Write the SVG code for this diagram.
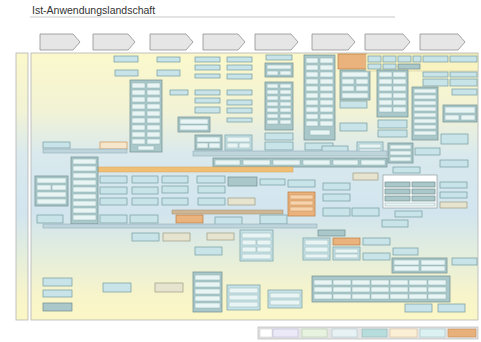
<svg xmlns="http://www.w3.org/2000/svg" width="481" height="342" viewBox="0 0 481 342">
  <defs>
    <linearGradient id="bodyFill" x1="0" y1="0" x2="0" y2="1">
      <stop offset="0" stop-color="#fbf8cb"/>
      <stop offset="0.22" stop-color="#f2f3d6"/>
      <stop offset="0.38" stop-color="#d9e9ed"/>
      <stop offset="0.6" stop-color="#d2e5ef"/>
      <stop offset="0.76" stop-color="#e4eedc"/>
      <stop offset="0.9" stop-color="#f7f4cb"/>
      <stop offset="1" stop-color="#fbf7c6"/>
    </linearGradient>
    <style>
      .title { font-family: "Liberation Sans", Arial, sans-serif; font-size: 10.5px; fill: #333; }
      .chev { fill: #e6e6e6; stroke: #8f8f8f; stroke-width: 0.8; }
      .frame { fill: url(#bodyFill); stroke: #b3b3b3; stroke-width: 0.8; }
      .b { fill: #c9e4e8; stroke: #739ca0; stroke-width: 0.7; }
      .w { fill: #e9f4f4; stroke: #8fb0b2; stroke-width: 0.5; }
      .g { fill: #aac8ca; stroke: #708e90; stroke-width: 0.7; }
      .o { fill: #eab27c; stroke: #bd7c40; stroke-width: 0.7; }
      .c { fill: #f6e6cc; stroke: #cf9252; stroke-width: 0.7; }
      .t { fill: #cdb797; stroke: #a98f6b; stroke-width: 0.5; }
      .y { fill: #e6e4cf; stroke: #9c9c82; stroke-width: 0.7; }
      .l { fill: #bed5dc; stroke: #88a5ae; stroke-width: 0.5; }
      .ob { fill: #f0bf76; stroke: #d8a055; stroke-width: 0.5; }
      .wh { fill: #ffffff; stroke: #8f9b9c; stroke-width: 0.7; }
    </style>
  </defs>

  <rect width="481" height="342" fill="#ffffff"/>

  <!-- heading -->
  <text class="title" x="32" y="14">Ist-Anwendungslandschaft</text>
  <line x1="30" y1="17" x2="395" y2="17" stroke="#b0b0b0" stroke-width="0.7"/>

  <!-- process chain -->
  <g id="process">
    <path class="chev" d="M40,34 H73 L80,42 L73,50 H40 Z"/>
    <path class="chev" d="M93,34 H128 L135,42 L128,50 H93 Z"/>
    <path class="chev" d="M150,34 H186 L193,42 L186,50 H150 Z"/>
    <path class="chev" d="M203,34 H238 L245,42 L238,50 H203 Z"/>
    <path class="chev" d="M255,34 H291 L298,42 L291,50 H255 Z"/>
    <path class="chev" d="M312,34 H348 L355,42 L348,50 H312 Z"/>
    <path class="chev" d="M365,34 H403 L410,42 L403,50 H365 Z"/>
    <path class="chev" d="M420,34 H458 L465,42 L458,50 H420 Z"/>
  </g>

  <!-- lanes -->
  <rect class="frame" x="16" y="53" width="12" height="267"/>
  <rect class="frame" x="31" y="53" width="447" height="267"/>

  <!-- upper area -->
  <g id="n1"><rect class="b" x="114" y="56" width="24" height="6"/></g>
  <g id="n2"><rect class="b" x="115" y="70" width="23" height="6"/></g>
  <g id="n3"><rect class="b" x="157" y="57" width="23" height="5"/></g>
  <g id="n4"><rect class="b" x="157" y="70" width="23" height="6"/></g>
  <g id="n5">
    <rect class="g" x="130" y="80" width="32" height="72"/>
    <rect class="w" x="132" y="83" width="13" height="5"/><rect class="w" x="147" y="83" width="13" height="5"/>
    <rect class="w" x="132" y="90" width="13" height="5"/><rect class="w" x="147" y="90" width="13" height="5"/>
    <rect class="w" x="132" y="97" width="13" height="5"/><rect class="w" x="147" y="97" width="13" height="5"/>
    <rect class="w" x="132" y="104" width="13" height="5"/><rect class="w" x="147" y="104" width="13" height="5"/>
    <rect class="w" x="132" y="111" width="13" height="5"/><rect class="w" x="147" y="111" width="13" height="5"/>
    <rect class="w" x="132" y="118" width="13" height="5"/><rect class="w" x="147" y="118" width="13" height="5"/>
    <rect class="w" x="132" y="125" width="13" height="5"/><rect class="w" x="147" y="125" width="13" height="5"/>
    <rect class="w" x="132" y="132" width="13" height="5"/><rect class="w" x="147" y="132" width="13" height="5"/>
    <rect class="w" x="132" y="139" width="13" height="5"/><rect class="w" x="147" y="139" width="13" height="5"/>
    <rect class="w" x="138" y="146" width="16" height="4"/>
  </g>
  <g id="n6"><rect class="b" x="170" y="90" width="18" height="5"/></g>
  <g id="n7"><rect class="b" x="195" y="57" width="25" height="5"/></g>
  <g id="n8"><rect class="b" x="227" y="57" width="25" height="5"/></g>
  <g id="n9"><rect class="b" x="195" y="65" width="25" height="5"/></g>
  <g id="n10"><rect class="b" x="227" y="65" width="25" height="5"/></g>
  <g id="n11"><rect class="b" x="195" y="74" width="25" height="4"/></g>
  <g id="n12"><rect class="b" x="227" y="74" width="25" height="5"/></g>
  <g id="n13"><rect class="b" x="195" y="90" width="25" height="5"/></g>
  <g id="n14"><rect class="b" x="227" y="90" width="25" height="5"/></g>
  <g id="n15"><rect class="b" x="195" y="98" width="25" height="5"/></g>
  <g id="n16"><rect class="b" x="227" y="100" width="25" height="5"/></g>
  <g id="n17"><rect class="b" x="195" y="107" width="25" height="6"/></g>
  <g id="n18"><rect class="b" x="227" y="108" width="25" height="5"/></g>
  <g id="n19"><rect class="b" x="227" y="118" width="25" height="4"/></g>
  <g id="n20">
    <rect class="g" x="178" y="117" width="32" height="15"/>
    <rect class="w" x="180" y="119" width="28" height="5"/><rect class="w" x="180" y="125" width="28" height="5"/>
  </g>
  <g id="n21">
    <rect class="g" x="195" y="135" width="27" height="15"/>
    <rect class="w" x="197" y="137" width="23" height="5"/>
    <rect class="w" x="197" y="143" width="11" height="5"/><rect class="w" x="209" y="143" width="11" height="5"/>
  </g>
  <g id="n22">
    <rect class="b" x="225" y="135" width="27" height="15"/>
    <rect class="w" x="227" y="137" width="23" height="5"/>
    <rect class="w" x="227" y="143" width="11" height="5"/><rect class="w" x="239" y="143" width="11" height="5"/>
  </g>

  <!-- customer service column -->
  <g id="n23"><rect class="b" x="266" y="55" width="26" height="5"/></g>
  <g id="n24">
    <rect class="g" x="265" y="63" width="28" height="14"/>
    <rect class="w" x="267" y="65" width="24" height="4"/>
    <rect class="w" x="267" y="71" width="11" height="4"/><rect class="w" x="280" y="71" width="11" height="4"/>
  </g>
  <g id="n25">
    <rect class="g" x="265" y="82" width="28" height="48"/>
    <rect class="w" x="267" y="84" width="11" height="4"/><rect class="w" x="280" y="84" width="11" height="4"/>
    <rect class="w" x="267" y="90" width="11" height="4"/><rect class="w" x="280" y="90" width="11" height="4"/>
    <rect class="w" x="267" y="96" width="11" height="4"/><rect class="w" x="280" y="96" width="11" height="4"/>
    <rect class="w" x="267" y="102" width="11" height="4"/><rect class="w" x="280" y="102" width="11" height="4"/>
    <rect class="w" x="267" y="108" width="11" height="4"/><rect class="w" x="280" y="108" width="11" height="4"/>
    <rect class="w" x="267" y="114" width="11" height="4"/><rect class="w" x="280" y="114" width="11" height="4"/>
    <rect class="w" x="267" y="120" width="11" height="4"/><rect class="w" x="280" y="120" width="11" height="4"/>
  </g>
  <g id="n26"><rect class="b" x="265" y="133" width="28" height="7"/></g>
  <g id="n27"><rect class="b" x="265" y="142" width="28" height="8"/></g>

  <!-- transport column -->
  <g id="n28">
    <rect class="g" x="304" y="55" width="31" height="85"/>
    <rect class="w" x="306" y="58" width="12" height="5"/><rect class="w" x="320" y="58" width="13" height="5"/>
    <rect class="w" x="306" y="65" width="12" height="5"/><rect class="w" x="320" y="65" width="13" height="5"/>
    <rect class="w" x="306" y="72" width="12" height="5"/><rect class="w" x="320" y="72" width="13" height="5"/>
    <rect class="w" x="306" y="79" width="12" height="5"/><rect class="w" x="320" y="79" width="13" height="5"/>
    <rect class="w" x="306" y="86" width="12" height="5"/><rect class="w" x="320" y="86" width="13" height="5"/>
    <rect class="w" x="306" y="93" width="12" height="5"/><rect class="w" x="320" y="93" width="13" height="5"/>
    <rect class="w" x="306" y="100" width="12" height="5"/><rect class="w" x="320" y="100" width="13" height="5"/>
    <rect class="w" x="306" y="107" width="12" height="5"/><rect class="w" x="320" y="107" width="13" height="5"/>
    <rect class="w" x="306" y="114" width="12" height="5"/><rect class="w" x="320" y="114" width="13" height="5"/>
    <rect class="w" x="306" y="121" width="12" height="5"/><rect class="w" x="320" y="121" width="13" height="5"/>
    <rect class="w" x="310" y="130" width="20" height="5"/>
  </g>
  <g id="n29"><rect class="o" x="338" y="54" width="29" height="15"/></g>
  <g id="n30">
    <rect class="g" x="340" y="70" width="30" height="30"/>
    <rect class="w" x="342" y="72" width="26" height="5"/>
    <rect class="w" x="342" y="79" width="12" height="5"/><rect class="w" x="356" y="79" width="12" height="5"/>
    <rect class="w" x="342" y="86" width="12" height="5"/><rect class="w" x="356" y="86" width="12" height="5"/>
    <rect class="w" x="342" y="93" width="26" height="5"/>
  </g>
  <g id="n31"><rect class="b" x="340" y="101" width="27" height="7"/></g>
  <g id="n32"><rect class="b" x="340" y="123" width="27" height="8"/></g>
  <g id="n33"><rect class="b" x="305" y="143" width="28" height="7"/></g>
  <g id="n34"><rect class="b" x="322" y="146" width="26" height="6"/></g>
  <g id="n35">
    <rect class="b" x="357" y="142" width="26" height="13"/>
    <rect class="w" x="359" y="144" width="22" height="4"/><rect class="w" x="359" y="149" width="22" height="4"/>
  </g>

  <!-- production column -->
  <g id="n36">
    <rect x="366" y="54" width="112" height="17" fill="#f9f3c2" stroke="#c9c29a" stroke-width="0.5"/>
    <rect class="b" x="368" y="56" width="13" height="6"/><rect class="b" x="383" y="56" width="13" height="6"/>
    <rect class="b" x="398" y="56" width="13" height="6"/><rect class="b" x="413" y="56" width="8" height="6"/>
    <rect class="b" x="368" y="64" width="13" height="5"/><rect class="b" x="383" y="64" width="13" height="5"/>
    <rect class="g" x="398" y="64" width="22" height="5"/>
  </g>
  <g id="n37"><rect class="b" x="423" y="56" width="25" height="6"/></g>
  <g id="n38"><rect class="b" x="450" y="56" width="27" height="6"/></g>
  <g id="n39"><rect class="b" x="423" y="72" width="25" height="5"/></g>
  <g id="n40"><rect class="b" x="450" y="72" width="27" height="5"/></g>
  <g id="n41"><rect class="b" x="423" y="79" width="25" height="7"/></g>
  <g id="n42"><rect class="b" x="450" y="79" width="27" height="7"/></g>
  <g id="n43"><rect class="b" x="452" y="89" width="25" height="6"/></g>
  <g id="n44">
    <rect class="g" x="377" y="70" width="31" height="47"/>
    <rect class="w" x="379" y="72" width="13" height="5"/><rect class="w" x="393" y="72" width="13" height="5"/>
    <rect class="w" x="379" y="79" width="13" height="5"/><rect class="w" x="393" y="79" width="13" height="5"/>
    <rect class="w" x="379" y="86" width="13" height="5"/><rect class="w" x="393" y="86" width="13" height="5"/>
    <rect class="w" x="379" y="93" width="13" height="5"/><rect class="w" x="393" y="93" width="13" height="5"/>
    <rect class="w" x="379" y="100" width="13" height="5"/><rect class="w" x="393" y="100" width="13" height="5"/>
    <rect class="w" x="379" y="107" width="13" height="5"/><rect class="w" x="393" y="107" width="13" height="5"/>
  </g>
  <g id="n45"><rect class="b" x="378" y="120" width="29" height="8"/></g>
  <g id="n46"><rect class="b" x="378" y="130" width="29" height="7"/></g>
  <g id="n47">
    <rect class="g" x="412" y="87" width="26" height="53"/>
    <rect class="w" x="414" y="89" width="22" height="4"/><rect class="w" x="414" y="95" width="22" height="4"/>
    <rect class="w" x="414" y="101" width="22" height="4"/><rect class="w" x="414" y="107" width="22" height="4"/>
    <rect class="w" x="414" y="113" width="22" height="4"/><rect class="w" x="414" y="119" width="22" height="4"/>
    <rect class="w" x="414" y="125" width="22" height="4"/><rect class="w" x="414" y="131" width="22" height="4"/>
  </g>
  <g id="n48">
    <rect class="g" x="443" y="105" width="34" height="17"/>
    <rect class="w" x="445" y="107" width="30" height="6"/>
    <rect class="w" x="445" y="115" width="14" height="5"/><rect class="w" x="461" y="115" width="14" height="5"/>
  </g>
  <g id="n49"><rect class="b" x="441" y="134" width="27" height="10"/></g>
  <g id="n50">
    <rect class="g" x="388" y="143" width="25" height="20"/>
    <rect class="w" x="390" y="145" width="21" height="4"/><rect class="w" x="390" y="151" width="21" height="4"/>
    <rect class="w" x="390" y="157" width="21" height="4"/>
  </g>
  <g id="n51"><rect class="b" x="415" y="148" width="25" height="7"/></g>
  <g id="n52"><rect class="b" x="440" y="160" width="28" height="7"/></g>
  <g id="n53"><rect class="b" x="393" y="167" width="27" height="6"/></g>
  <g id="n54"><rect class="y" x="353" y="173" width="25" height="7"/></g>
  <g id="n55">
    <rect class="wh" x="383" y="175" width="54" height="33"/>
    <rect class="g" x="385" y="182" width="25" height="5"/><rect class="g" x="412" y="182" width="23" height="5"/>
    <rect class="g" x="385" y="189" width="25" height="5"/><rect class="g" x="412" y="189" width="23" height="5"/>
    <rect class="g" x="385" y="196" width="25" height="5"/><rect class="g" x="412" y="196" width="23" height="5"/>
    <rect class="w" x="385" y="203" width="50" height="3"/>
  </g>
  <g id="n56"><rect class="b" x="440" y="182" width="27" height="6"/></g>
  <g id="n57"><rect class="b" x="440" y="192" width="27" height="6"/></g>
  <g id="n58"><rect class="y" x="440" y="202" width="27" height="6"/></g>
  <g id="n59"><rect class="b" x="323" y="183" width="27" height="7"/></g>
  <g id="n60"><rect class="b" x="323" y="194" width="27" height="7"/></g>
  <g id="n61"><rect class="b" x="323" y="208" width="27" height="8"/></g>
  <g id="n62"><rect class="b" x="352" y="208" width="27" height="8"/></g>
  <g id="n63"><rect class="b" x="395" y="211" width="27" height="6"/></g>
  <g id="n64"><rect class="b" x="382" y="220" width="26" height="7"/></g>

  <!-- shared bands -->
  <g id="n65"><rect class="l" x="193" y="151" width="194" height="5"/></g>
  <g id="n66">
    <rect class="g" x="213" y="158" width="174" height="9"/>
    <rect class="w" x="215" y="160" width="25" height="5"/><rect class="w" x="243" y="160" width="27" height="5"/>
    <rect class="w" x="273" y="160" width="27" height="5"/><rect class="w" x="303" y="160" width="27" height="5"/>
    <rect class="w" x="333" y="160" width="25" height="5"/><rect class="w" x="361" y="160" width="24" height="5"/>
  </g>
  <g id="n67"><rect class="ob" x="98" y="167" width="195" height="5"/></g>
  <g id="n68"><rect class="b" x="43" y="142" width="27" height="6"/></g>
  <g id="n69"><rect class="c" x="100" y="142" width="27" height="7"/></g>
  <g id="n70"><rect class="l" x="43" y="149" width="84" height="4"/></g>

  <!-- middle area -->
  <g id="n71">
    <rect class="g" x="35" y="176" width="33" height="30"/>
    <rect class="w" x="37" y="178" width="29" height="5"/>
    <rect class="w" x="37" y="185" width="14" height="5"/><rect class="w" x="52" y="185" width="14" height="5"/>
    <rect class="w" x="37" y="192" width="29" height="5"/><rect class="w" x="37" y="199" width="29" height="5"/>
  </g>
  <g id="n72">
    <rect class="g" x="71" y="157" width="27" height="67"/>
    <rect class="w" x="73" y="159" width="23" height="5"/><rect class="w" x="73" y="166" width="23" height="5"/>
    <rect class="w" x="73" y="173" width="23" height="5"/><rect class="w" x="73" y="180" width="23" height="5"/>
    <rect class="w" x="73" y="187" width="23" height="5"/><rect class="w" x="73" y="194" width="23" height="5"/>
    <rect class="w" x="73" y="201" width="23" height="5"/><rect class="w" x="73" y="208" width="23" height="5"/>
    <rect class="w" x="73" y="215" width="23" height="5"/>
  </g>
  <g id="n73"><rect class="b" x="100" y="176" width="27" height="7"/></g>
  <g id="n74"><rect class="b" x="132" y="176" width="26" height="7"/></g>
  <g id="n75"><rect class="b" x="162" y="176" width="26" height="7"/></g>
  <g id="n76"><rect class="b" x="197" y="176" width="28" height="7"/></g>
  <g id="n77"><rect class="g" x="228" y="177" width="29" height="9"/></g>
  <g id="n78"><rect class="b" x="260" y="179" width="25" height="6"/></g>
  <g id="n79"><rect class="b" x="288" y="180" width="27" height="7"/></g>
  <g id="n80"><rect class="b" x="100" y="187" width="27" height="7"/></g>
  <g id="n81"><rect class="b" x="132" y="187" width="26" height="7"/></g>
  <g id="n82"><rect class="b" x="162" y="186" width="26" height="7"/></g>
  <g id="n83"><rect class="b" x="198" y="186" width="27" height="7"/></g>
  <g id="n84"><rect class="b" x="100" y="198" width="27" height="7"/></g>
  <g id="n85"><rect class="b" x="132" y="198" width="26" height="7"/></g>
  <g id="n86"><rect class="b" x="162" y="198" width="26" height="7"/></g>
  <g id="n87"><rect class="b" x="198" y="198" width="27" height="7"/></g>
  <g id="n88"><rect class="y" x="228" y="198" width="27" height="7"/></g>
  <g id="n89"><rect class="b" x="37" y="215" width="26" height="8"/></g>
  <g id="n90"><rect class="b" x="100" y="215" width="27" height="8"/></g>
  <g id="n91"><rect class="b" x="130" y="215" width="28" height="8"/></g>
  <g id="n92"><rect class="t" x="172" y="210" width="111" height="4"/></g>
  <g id="n93"><rect class="o" x="176" y="215" width="27" height="8"/></g>
  <g id="n94"><rect class="b" x="215" y="217" width="27" height="8"/></g>
  <g id="n95"><rect class="b" x="260" y="215" width="27" height="9"/></g>
  <g id="n96">
    <rect class="o" x="288" y="192" width="27" height="24"/>
    <rect x="290" y="195" width="23" height="4" fill="#f6d3ad" stroke="#c4854a" stroke-width="0.4"/>
    <rect x="290" y="201" width="23" height="4" fill="#f6d3ad" stroke="#c4854a" stroke-width="0.4"/>
    <rect x="290" y="207" width="23" height="4" fill="#f6d3ad" stroke="#c4854a" stroke-width="0.4"/>
  </g>
  <g id="n97"><rect class="l" x="43" y="224" width="274" height="4"/></g>

  <!-- lower area -->
  <g id="n98"><rect class="b" x="132" y="233" width="27" height="8"/></g>
  <g id="n99"><rect class="y" x="163" y="233" width="27" height="8"/></g>
  <g id="n100"><rect class="y" x="207" y="233" width="27" height="7"/></g>
  <g id="n101">
    <rect class="b" x="240" y="230" width="33" height="31"/>
    <rect class="w" x="242" y="233" width="29" height="5"/>
    <rect class="w" x="242" y="240" width="14" height="5"/><rect class="w" x="257" y="240" width="14" height="5"/>
    <rect class="w" x="242" y="247" width="14" height="5"/><rect class="w" x="257" y="247" width="14" height="5"/>
    <rect class="w" x="242" y="254" width="29" height="5"/>
  </g>
  <g id="n102"><rect class="b" x="195" y="247" width="27" height="8"/></g>
  <g id="n103"><rect class="g" x="318" y="230" width="27" height="6"/></g>
  <g id="n104">
    <rect class="b" x="303" y="238" width="27" height="22"/>
    <rect class="w" x="305" y="240" width="23" height="5"/><rect class="w" x="305" y="247" width="23" height="5"/>
    <rect class="w" x="305" y="254" width="23" height="4"/>
  </g>
  <g id="n105"><rect class="o" x="333" y="238" width="27" height="7"/></g>
  <g id="n106">
    <rect class="b" x="333" y="247" width="27" height="13"/>
    <rect class="w" x="335" y="249" width="23" height="4"/><rect class="w" x="335" y="254" width="23" height="4"/>
  </g>
  <g id="n107"><rect class="b" x="363" y="238" width="27" height="7"/></g>
  <g id="n108"><rect class="b" x="363" y="253" width="27" height="7"/></g>
  <g id="n109"><rect class="b" x="393" y="248" width="25" height="7"/></g>
  <g id="n110">
    <rect class="g" x="392" y="258" width="55" height="15"/>
    <rect class="w" x="394" y="260" width="25" height="5"/><rect class="w" x="421" y="260" width="24" height="5"/>
    <rect class="w" x="394" y="266" width="25" height="5"/><rect class="w" x="421" y="266" width="24" height="5"/>
  </g>
  <g id="n111"><rect class="b" x="452" y="258" width="25" height="7"/></g>
  <g id="n112">
    <rect class="g" x="312" y="276" width="138" height="26"/>
    <rect class="w" x="314" y="280" width="18" height="5"/><rect class="w" x="333" y="280" width="18" height="5"/>
    <rect class="w" x="352" y="280" width="18" height="5"/><rect class="w" x="371" y="280" width="18" height="5"/>
    <rect class="w" x="390" y="280" width="18" height="5"/><rect class="w" x="409" y="280" width="18" height="5"/>
    <rect class="w" x="428" y="280" width="18" height="5"/>
    <rect class="w" x="314" y="287" width="18" height="5"/><rect class="w" x="333" y="287" width="18" height="5"/>
    <rect class="w" x="352" y="287" width="18" height="5"/><rect class="w" x="371" y="287" width="18" height="5"/>
    <rect class="w" x="390" y="287" width="18" height="5"/><rect class="w" x="409" y="287" width="18" height="5"/>
    <rect class="w" x="428" y="287" width="18" height="5"/>
    <rect class="w" x="314" y="294" width="18" height="5"/><rect class="w" x="333" y="294" width="18" height="5"/>
    <rect class="w" x="352" y="294" width="18" height="5"/><rect class="w" x="371" y="294" width="18" height="5"/>
    <rect class="w" x="390" y="294" width="18" height="5"/><rect class="w" x="409" y="294" width="18" height="5"/>
    <rect class="w" x="428" y="294" width="18" height="5"/>
  </g>
  <g id="n113"><rect class="b" x="405" y="304" width="27" height="8"/></g>
  <g id="n114"><rect class="b" x="438" y="304" width="27" height="8"/></g>
  <g id="n115"><rect class="b" x="43" y="278" width="29" height="8"/></g>
  <g id="n116"><rect class="b" x="43" y="290" width="29" height="7"/></g>
  <g id="n117"><rect class="g" x="43" y="303" width="29" height="8"/></g>
  <g id="n118"><rect class="b" x="103" y="283" width="28" height="9"/></g>
  <g id="n119"><rect class="y" x="155" y="283" width="28" height="9"/></g>
  <g id="n120">
    <rect class="g" x="193" y="272" width="29" height="40"/>
    <rect class="w" x="195" y="275" width="25" height="5"/><rect class="w" x="195" y="282" width="25" height="5"/>
    <rect class="w" x="195" y="289" width="25" height="5"/><rect class="w" x="195" y="296" width="25" height="5"/>
    <rect class="w" x="195" y="303" width="25" height="5"/>
  </g>
  <g id="n121">
    <rect class="b" x="227" y="285" width="33" height="25"/>
    <rect class="w" x="229" y="288" width="29" height="5"/><rect class="w" x="229" y="295" width="29" height="5"/>
    <rect class="w" x="229" y="302" width="29" height="5"/>
  </g>
  <g id="n122">
    <rect class="b" x="268" y="290" width="34" height="18"/>
    <rect class="w" x="270" y="293" width="30" height="5"/><rect class="w" x="270" y="300" width="30" height="5"/>
  </g>

  <!-- legend -->
  <g id="legend">
    <rect x="258" y="327" width="220" height="12" fill="#e4e4e4" stroke="#b0b0b0" stroke-width="0.6"/>
    <rect x="260" y="329" width="12" height="8" fill="#ffffff" stroke="#c0c0c0" stroke-width="0.4"/>
    <rect x="273" y="329" width="25" height="8" fill="#ebe9f8" stroke="#b5b3d2" stroke-width="0.5"/>
    <rect x="302" y="329" width="25" height="8" fill="#e7f3df" stroke="#a9c2a0" stroke-width="0.5"/>
    <rect x="332" y="329" width="25" height="8" fill="#e7f2f5" stroke="#a3bcc4" stroke-width="0.5"/>
    <rect x="362" y="329" width="25" height="8" fill="#b6dcdb" stroke="#86aeb2" stroke-width="0.5"/>
    <rect x="390" y="329" width="27" height="8" fill="#fbefd6" stroke="#d8b68a" stroke-width="0.5"/>
    <rect x="420" y="329" width="25" height="8" fill="#dcf2f2" stroke="#97bcbf" stroke-width="0.5"/>
    <rect x="448" y="329" width="28" height="8" fill="#e8b07b" stroke="#c4854a" stroke-width="0.5"/>
  </g>
</svg>
